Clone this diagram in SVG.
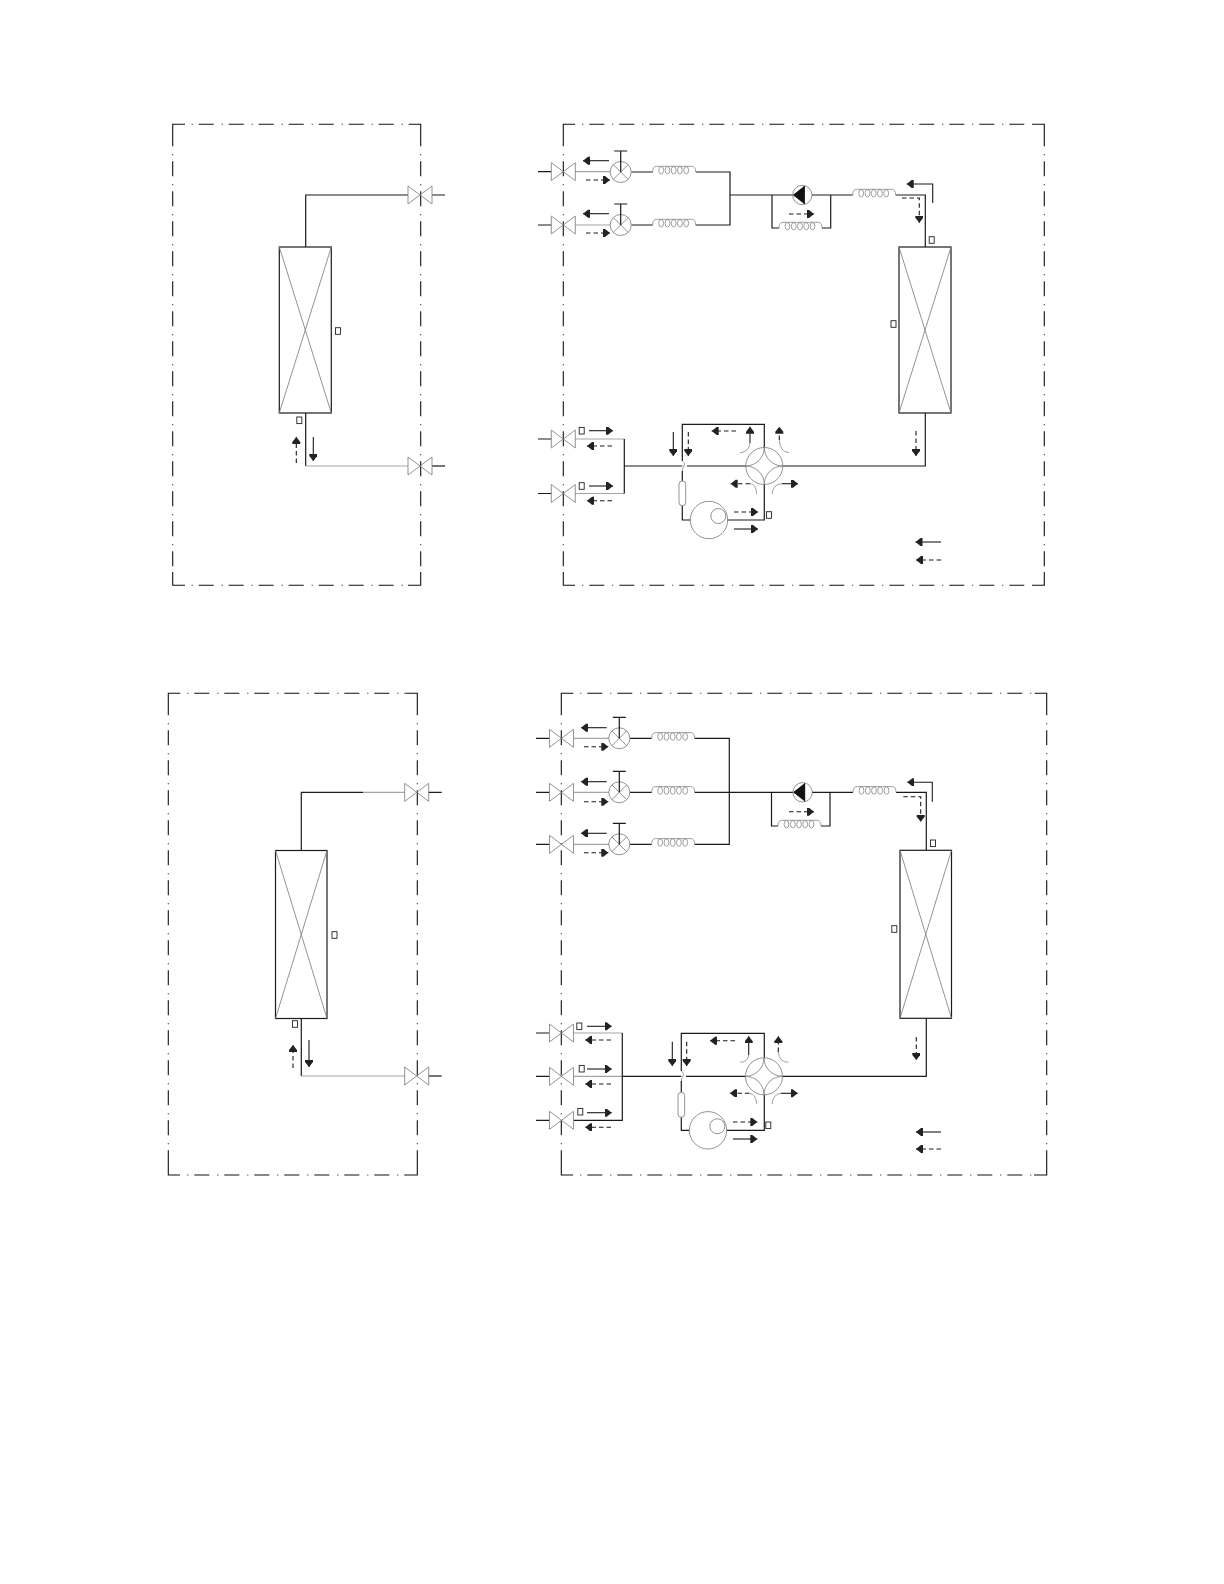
<svg xmlns="http://www.w3.org/2000/svg" width="1224" height="1584" viewBox="0 0 1224 1584">
<style>
.c{fill:none;stroke:#111;stroke-width:1.1}
.f{fill:none;stroke:#111;stroke-width:1.1;stroke-dasharray:1 6 15 8}
.k{fill:none;stroke:#1a1a1a;stroke-width:1.2}
.g{fill:none;stroke:#a5a5a5;stroke-width:1.2}
.t{fill:none;stroke:#808080;stroke-width:.85}
.b{fill:#fff;stroke:#222;stroke-width:.9}
.s{fill:none;stroke:#1a1a1a;stroke-width:1.1;marker-end:url(#h)}
.d{fill:none;stroke:#1a1a1a;stroke-width:1.1;stroke-dasharray:4.5 3;marker-end:url(#h)}
.n{fill:none;stroke:#888;stroke-width:.8}
</style>
<defs>
<marker id="h" markerUnits="userSpaceOnUse" markerWidth="9" markerHeight="10" refX="7" refY="4" orient="auto"><path d="M0 0 2 0 7 4 2 8 0 8Z" fill="#222"/></marker>
<g id="valve"><path class="t" d="M-12-9 12 9V-9L-12 9Z"/></g>
<g id="cv"><circle class="t" r="10.5"/><path class="t" d="M-7.4-7.4 7.4 7.4M7.4-7.4-7.4 7.4"/><path class="k" d="M0 0V-21M-6.5-21H6.5"/></g>
<g id="coil"><path class="n" d="M0 0Q0-5.7 4-5.7H39Q43-5.7 43 0"/><ellipse class="n" cx="8.5" cy="-1.7" rx="2.4" ry="3.7"/><ellipse class="n" cx="14.8" cy="-1.7" rx="2.4" ry="3.7"/><ellipse class="n" cx="21" cy="-1.7" rx="2.4" ry="3.7"/><ellipse class="n" cx="27.2" cy="-1.7" rx="2.4" ry="3.7"/><ellipse class="n" cx="33.5" cy="-1.7" rx="2.4" ry="3.7"/></g>
<g id="pump"><circle class="t" r="9.7"/><path d="M-9.5 0 2-9V9Z" fill="#111"/><path class="k" d="M2-9V9"/></g>
<g id="rv"><circle class="t" r="18.5"/><path class="t" d="M-18.5 0A18.5 18.5 0 0 0 0-18.5A18.5 18.5 0 0 0 18.5 0A18.5 18.5 0 0 0 0 18.5A18.5 18.5 0 0 0-18.5 0Z"/></g>
<g id="comp"><circle class="t" r="18.7"/><circle class="t" cx="9.3" cy="-4" r="7.5"/></g>
<g id="hx"><rect class="k" width="52" height="166" fill="#fff"/><path class="t" d="M0 0 52 166M52 0 0 166"/></g>
<g id="hx2"><rect class="k" width="51.5" height="168" fill="#fff"/><path class="t" d="M0 0 51.5 168M51.5 0 0 168"/></g>
<rect id="bx" class="b" x="-2.5" y="-3.3" width="5" height="6.6"/>
</defs>

<g id="frames">
<path class="c" d="M172.7 146.3V124.3H185M408.7 124.3H420.7V146.3M420.7 572V585.3H408M185 585.3H172.7V572"/>
<path class="f" d="M191.7 124.3H408M172.7 154.3V572M420.7 154.3V572M191.7 585.3H408"/>
<path class="c" d="M563.3 146.3V124.3H575M1032 124.3H1044.3V146.3M1044.3 572V585.3H1032M575 585.3H563.3V572"/>
<path class="f" d="M582.3 124.3H1032M563.3 154.3V572M1044.3 154.3V572M582.3 585.3H1032"/>
<path class="c" d="M168.3 715.3V693.3H180.3M405.3 693.3H417.3V715.3M417.3 1162V1175H405M180 1175H168.3V1162"/>
<path class="f" d="M187.3 693.3H405M168.3 723.3V1162M417.3 723.3V1162M187.3 1175H405"/>
<path class="c" d="M561.3 715.3V693.3H573.3M1034.7 693.3H1046.7V715.3M1046.7 1162V1175H1034M573 1175H561.3V1162"/>
<path class="f" d="M580.3 693.3H1034M561.3 723.3V1162M1046.7 723.3V1162M580.3 1175H1034"/>
</g>

<g id="connectors">
<path class="k" d="M305.7 247V195H408M432 195H445M305.7 413V466"/>
<path class="g" d="M305.7 466H408"/><path class="k" d="M432 466H445"/>
<path class="s" d="M313.3 437V461"/><path class="d" d="M296.3 463V437"/>
<path class="k" d="M538 171.7H551.3M538 225H551.3M538 439H551.3M538 493.5H551.3"/>
<path class="g" d="M575.3 171.7H610M575.3 225H610M575.3 439H624.3M575.3 493.5H624.3"/>
<path class="k" d="M631.5 172H652.7M695.7 172H730V225H695.7M631.5 225H652.7M730 195H793M812 195H852.7M895.7 195H925.3V247M772 195V228H779M822 228H830.7V195"/>
<path class="k" d="M624.3 439V493.5M624.3 466H682.3M687 466H746M783 466H925.3V413"/>
<path class="k" d="M682.3 461V424.3H764.3V447.5M682.3 471V481M682.3 505.7V520H690.5M727.5 520H764.3V484.5"/>
<path class="s" d="M609 160.7H583"/><path class="d" d="M586 180H610"/><path class="s" d="M609 213.7H583"/><path class="d" d="M586 233H610"/>
<path class="d" d="M789 214H814"/>
<path class="s" d="M932.7 203V184H906.7"/><path class="d" d="M902 198H919.3V222.7"/>
<path class="s" d="M589 430.7H613"/><path class="d" d="M612 446H587"/><path class="s" d="M589 486H613"/><path class="d" d="M612 500.7H587"/>
<path class="s" d="M673.3 432V456"/><path class="d" d="M688.3 432V456"/><path class="d" d="M736 431H711.7"/>
<path class="s" d="M750 443V426.7"/><path class="n" d="M750 443Q749 452 740 452.7"/>
<path class="d" d="M779.3 440V426.7"/><path class="n" d="M779.3 440Q780 452 789 452.7"/>
<path class="d" d="M750 483.7H730.7"/><path class="n" d="M750 483.7Q756 484 756.7 494"/>
<path class="s" d="M782 483.7H798"/><path class="n" d="M782 483.7Q773 484 772 494"/>
<path class="d" d="M734 512H758"/><path class="s" d="M734 529H758"/>
<path class="d" d="M916 431V456"/>
<path class="s" d="M941 542H915.5"/><path class="d" d="M941 560H916"/>

<path class="k" d="M301.3 851V792.3H363M428.7 792.3H441.7M301.3 1018V1076"/>
<path class="g" d="M363 792.3H404.7M301.3 1076H405"/><path class="k" d="M429 1076H441.7"/>
<path class="s" d="M309 1040V1067"/><path class="d" d="M293 1068V1045"/>
<path class="k" d="M536 738.3H549.3M536 792.3H549.3M536 844.3H549.3M536 1033H549.3M536 1076.3H549.3M536 1120.3H549.3"/>
<path class="g" d="M573.7 738.3H609M573.7 792.3H609M573.7 844.3H609M573.7 1033H622.3M573.7 1076.3H622.3"/>
<path class="k" d="M573.7 1120.3H622.3V1033M630 738.3H651.7M694.7 738.3H729.3V844.3H694.7M630 844.3H651.7M630 792.3H651.7M694.7 792.3H793M812 792.3H853M896 792.3H926.3V850.3M771.5 792.3V826H778M821 826H830V792.3"/>
<path class="k" d="M622.3 1076.3H681.3M686 1076.3H745.5M782.7 1076.3H926.3V1018.3"/>
<path class="k" d="M681.3 1071V1033.3H764.3V1057.7M681.3 1081V1092.3M681.3 1117.3V1130.3H689.3M726.7 1130.3H764.3V1095"/>
<path class="s" d="M606.7 727.7H581"/><path class="d" d="M584 746.7H608.3"/><path class="s" d="M606.7 781.7H581"/><path class="d" d="M584 801.7H608.3"/><path class="s" d="M606.7 833.3H581"/><path class="d" d="M584 852.7H608.3"/>
<path class="d" d="M789 811.7H814"/>
<path class="s" d="M932.3 801.7V782.3H907.3"/><path class="d" d="M903.3 796.7H920.7V821.7"/>
<path class="s" d="M587 1026.3H611.7"/><path class="d" d="M611 1040H585.3"/><path class="s" d="M587 1069H611.7"/><path class="d" d="M611 1084H585.3"/><path class="s" d="M587 1112.7H611.7"/><path class="d" d="M611 1127.3H585.3"/>
<path class="s" d="M672.3 1041.7V1066"/><path class="d" d="M686.7 1041.7V1066"/><path class="d" d="M735 1040.7H710"/>
<path class="s" d="M748.7 1055V1036.3"/><path class="n" d="M748.7 1055Q748 1062 740 1062.3"/>
<path class="d" d="M778.3 1052V1036.3"/><path class="n" d="M778.3 1052Q779 1062 788.3 1062.3"/>
<path class="d" d="M749.5 1093.3H730"/><path class="n" d="M749.5 1093.3Q756 1094 756.7 1104"/>
<path class="s" d="M781 1093.3H797.7"/><path class="n" d="M781 1093.3Q773 1094 772 1104"/>
<path class="d" d="M733 1122H757.3"/><path class="s" d="M733 1139H757.3"/>
<path class="d" d="M916.3 1037V1060"/>
<path class="s" d="M941 1132H916"/><path class="d" d="M941 1149H916"/>
<path class="n" d="M682.3 461Q686 463 684 466Q682 469 682.3 471M681.3 1071Q685 1073 683 1076.3Q681 1079 681.3 1081"/>
</g>

<g id="hx-top-left"><use href="#hx" x="279.3" y="247"/></g>
<g id="hx-top-right"><use href="#hx" x="899" y="247"/></g>
<g id="hx-bottom-left"><use href="#hx2" x="275.5" y="850.5"/></g>
<g id="hx-bottom-right"><use href="#hx2" x="900" y="850.3"/></g>

<g id="valves-top"><use href="#valve" x="420" y="195"/><use href="#valve" x="420" y="466"/><use href="#valve" x="563.3" y="171.7"/><use href="#valve" x="563.3" y="225"/><use href="#valve" x="563.3" y="439"/><use href="#valve" x="563.3" y="493.5"/></g>
<g id="valves-bottom"><use href="#valve" x="416.7" y="792.3"/><use href="#valve" x="416.7" y="1076"/><use href="#valve" x="561.5" y="738.3"/><use href="#valve" x="561.5" y="792.3"/><use href="#valve" x="561.5" y="844.3"/><use href="#valve" x="561.5" y="1033"/><use href="#valve" x="561.5" y="1076.3"/><use href="#valve" x="561.5" y="1120.3"/></g>

<g id="cv-top"><use href="#cv" x="620.7" y="172"/><use href="#cv" x="620.7" y="225"/></g>
<g id="cv-bottom"><use href="#cv" x="619.3" y="738.3"/><use href="#cv" x="619.3" y="792.3"/><use href="#cv" x="619.3" y="844.3"/></g>

<g id="coils-top"><use href="#coil" x="652.7" y="172"/><use href="#coil" x="652.7" y="225"/><use href="#coil" x="852.7" y="195"/><use href="#coil" x="779" y="228"/></g>
<g id="coils-bottom"><use href="#coil" x="651.7" y="738.3"/><use href="#coil" x="651.7" y="792.3"/><use href="#coil" x="651.7" y="844.3"/><use href="#coil" x="853" y="792.3"/><use href="#coil" x="778" y="826"/></g>

<g id="pump-top"><use href="#pump" x="802.3" y="195"/></g>
<g id="pump-bottom"><use href="#pump" x="802.6" y="792.3"/></g>

<g id="reversing-top"><use href="#rv" x="764.3" y="466"/></g>
<g id="reversing-bottom"><use href="#rv" x="764" y="1076.3"/></g>

<g id="compressor-top"><use href="#comp" x="709" y="520"/><rect x="679" y="481" width="6.7" height="24.7" rx="3.3" class="t"/></g>
<g id="compressor-bottom"><use href="#comp" x="708" y="1130.3"/><rect x="678" y="1092.3" width="6.7" height="25" rx="3.3" class="t"/></g>

<g id="sensors">
<use href="#bx" x="299.3" y="420.3"/><use href="#bx" x="338" y="331"/><use href="#bx" x="931.7" y="240"/><use href="#bx" x="893.5" y="324"/><use href="#bx" x="581.7" y="430.7"/><use href="#bx" x="581.7" y="486"/><use href="#bx" x="769" y="515"/>
<use href="#bx" x="295" y="1024"/><use href="#bx" x="334.5" y="935"/><use href="#bx" x="933" y="843.3"/><use href="#bx" x="894.3" y="929"/><use href="#bx" x="579.3" y="1026.3"/><use href="#bx" x="581.7" y="1068.7"/><use href="#bx" x="580.3" y="1111.7"/><use href="#bx" x="768.3" y="1125.3"/>
</g>
</svg>
